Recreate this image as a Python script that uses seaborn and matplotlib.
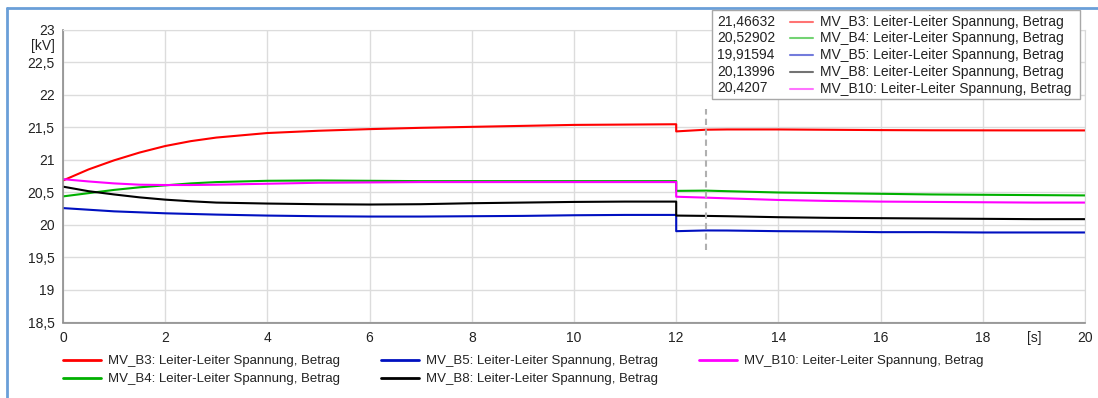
import numpy as np
import pandas as pd
import matplotlib
matplotlib.use('Agg')
import matplotlib.pyplot as plt
from matplotlib.lines import Line2D
from matplotlib.patches import Rectangle
from matplotlib.ticker import AutoMinorLocator, MultipleLocator
import seaborn as sns

# Zeitachse [s] - bei 12 s doppelt (Sprung)
t = [0, 0.5, 1, 1.5, 2, 2.5, 3, 4, 5, 6, 7, 8, 9, 10, 11, 12,
     12, 12.58, 13, 14, 15, 16, 17, 18, 19, 20]

# Spannungen [kV]
u_b3 = [20.685, 20.855, 20.995, 21.115, 21.215, 21.29, 21.345, 21.415, 21.45, 21.475, 21.495, 21.51, 21.525, 21.54, 21.545, 21.55,
        21.44, 21.466, 21.47, 21.47, 21.465, 21.46, 21.457, 21.456, 21.455, 21.455]
u_b4 = [20.44, 20.49, 20.54, 20.58, 20.61, 20.64, 20.66, 20.68, 20.685, 20.68, 20.675, 20.675, 20.675, 20.675, 20.675, 20.675,
        20.525, 20.529, 20.52, 20.50, 20.49, 20.48, 20.47, 20.465, 20.46, 20.455]
u_b5 = [20.26, 20.235, 20.21, 20.195, 20.18, 20.17, 20.16, 20.145, 20.135, 20.13, 20.13, 20.135, 20.14, 20.15, 20.155, 20.155,
        19.905, 19.916, 19.915, 19.905, 19.90, 19.89, 19.89, 19.885, 19.885, 19.885]
u_b8 = [20.59, 20.52, 20.47, 20.425, 20.39, 20.365, 20.345, 20.33, 20.32, 20.315, 20.32, 20.335, 20.345, 20.355, 20.36, 20.36,
        20.145, 20.14, 20.135, 20.12, 20.11, 20.105, 20.10, 20.095, 20.09, 20.09]
u_b10 = [20.705, 20.67, 20.64, 20.62, 20.615, 20.615, 20.62, 20.635, 20.65, 20.655, 20.66, 20.66, 20.66, 20.66, 20.66, 20.66,
         20.435, 20.421, 20.41, 20.385, 20.37, 20.36, 20.355, 20.35, 20.345, 20.345]

names = ['MV_B3', 'MV_B4', 'MV_B5', 'MV_B8', 'MV_B10']
colors = ['#ff0000', '#00b000', '#0010c0', '#000000', '#ff00ff']

# Cursor-Werte bei t = 12,58 s
cursor_t = 12.58
cursor_vals = ['21,46632', '20,52902', '19,91594', '20,13996', '20,4207']

y_ticks = [18.5, 19, 19.5, 20, 20.5, 21, 21.5, 22, 22.5, 23]
x_ticks = [0, 2, 4, 6, 8, 10, 12, 14, 16, 18, 20]

suffix = ': Leiter-Leiter Spannung, Betrag'

df = pd.DataFrame({'t': t, 'MV_B3': u_b3, 'MV_B4': u_b4, 'MV_B5': u_b5,
                   'MV_B8': u_b8, 'MV_B10': u_b10})
df_long = df.melt(id_vars='t', var_name='Knoten', value_name='U')

sns.set_style('white')
plt.rcParams['font.family'] = ['Liberation Sans', 'DejaVu Sans']

W, H = 1098, 398
fig = plt.figure(figsize=(W / 100, H / 100), dpi=100)
ax = fig.add_axes([63 / W, 1 - 322.5 / H, 1022 / W, 292.5 / H])

sns.lineplot(data=df_long, x='t', y='U', hue='Knoten', hue_order=names,
             palette=colors, estimator=None, sort=False, linewidth=1.5,
             legend=False, ax=ax)

# Cursorlinie
ax.vlines(cursor_t, 19.62, 21.78, colors='#b0b0b0', linestyles=(0, (3, 2)), linewidth=1.5, zorder=5)

ax.set_xlim(0, 20)
ax.set_ylim(18.5, 23)
ax.set_xticks(x_ticks)
ax.set_xticklabels([str(v) for v in x_ticks])
ax.set_yticks(y_ticks)
ax.set_yticklabels([('%g' % v).replace('.', ',') for v in y_ticks])
ax.xaxis.set_minor_locator(MultipleLocator(1))
ax.yaxis.set_minor_locator(AutoMinorLocator(4))
ax.tick_params(which='major', length=0, labelsize=10, labelcolor='#222222', pad=6)
ax.tick_params(which='minor', direction='in', length=4.5, color='#b0b0b0', width=0.8)
ax.set_xlabel('')
ax.set_ylabel('')
ax.grid(True, which='major', color='#dcdcdc', linewidth=1)
for s in ['left', 'bottom']:
    ax.spines[s].set_color('#8c8c8c')
    ax.spines[s].set_linewidth(1.2)
ax.spines['right'].set_color('#d8d8d8')
ax.spines['top'].set_color('#dcdcdc')

# Einheiten
ax.annotate('[kV]', xy=(0, 22.75), xycoords=('axes fraction', 'data'), xytext=(-6, 0),
            textcoords='offset points', ha='right', va='center', fontsize=10, color='#222222')
ax.annotate('[s]', xy=(19, 0), xycoords=('data', 'axes fraction'), xytext=(0, -6),
            textcoords='offset points', ha='center', va='top', fontsize=10, color='#222222')

def fx(x):
    return x / W

def fy(y):
    return 1 - y / H

# Cursor-Legende oben rechts
fig.add_artist(Rectangle((fx(712), fy(99)), fx(1080) - fx(712), fy(10) - fy(99),
                         transform=fig.transFigure, facecolor='white', edgecolor='#a8a8a8',
                         linewidth=1, zorder=10))
row_y = [21.7, 38.4, 55.1, 71.8, 88.5]
for name, col, val, ry in zip(names, colors, cursor_vals, row_y):
    fig.text(fx(717), fy(ry), val, ha='left', va='center', fontsize=10, color='#222222', zorder=11)
    fig.add_artist(Line2D([fx(790), fx(813)], [fy(ry), fy(ry)], color=col, alpha=0.55,
                          linewidth=1.5, transform=fig.transFigure, zorder=11))
    fig.text(fx(820), fy(ry), name + suffix, ha='left', va='center', fontsize=10, color='#222222', zorder=11)

# Legende unten
handles = [Line2D([], [], color=c, linewidth=2) for c in colors]
labels = [n + suffix for n in names]
fig.legend(handles, labels, ncol=3, loc='upper left', bbox_to_anchor=(fx(63), fy(355)),
           frameon=False, fontsize=9.5, handlelength=2.88, handletextpad=0.53,
           columnspacing=3.1, labelspacing=0.44, borderpad=0, borderaxespad=0,
           labelcolor='#222222')

# blauer Rahmen
fig.add_artist(Line2D([fx(7), fx(7)], [fy(8), -0.1], color='#6a9fd8', linewidth=2, transform=fig.transFigure))
fig.add_artist(Line2D([fx(7), 1.1], [fy(8), fy(8)], color='#6a9fd8', linewidth=2, transform=fig.transFigure))

fig.savefig('out.png', dpi=100, facecolor='white')
